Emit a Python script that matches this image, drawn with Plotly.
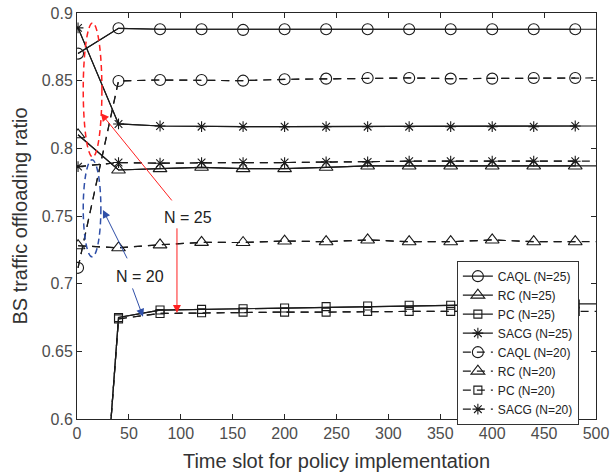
import plotly.graph_objects as go

# ---------------- data ----------------
x_slots = [1, 40, 80, 120, 160, 200, 240, 280, 320, 360, 400, 440, 480, 500]

caql_25 = [0.870, 0.8887, 0.888, 0.888, 0.8875, 0.888, 0.888, 0.888, 0.888, 0.888, 0.888, 0.888, 0.888, 0.888]
rc_25   = [0.810, 0.784, 0.785, 0.786, 0.785, 0.785, 0.786, 0.787, 0.787, 0.787, 0.787, 0.787, 0.787, 0.787]
pc_25   = [0.270, 0.675, 0.6805, 0.681, 0.6815, 0.682, 0.683, 0.6835, 0.684, 0.684, 0.6845, 0.685, 0.685, 0.685]
sacg_25 = [0.889, 0.818, 0.8165, 0.816, 0.816, 0.816, 0.816, 0.816, 0.816, 0.816, 0.816, 0.816, 0.8165, 0.8165]

caql_20 = [0.7117, 0.8498, 0.8505, 0.8505, 0.850, 0.851, 0.8515, 0.852, 0.852, 0.8515, 0.8515, 0.852, 0.852, 0.852]
rc_20   = [0.728, 0.7265, 0.7287, 0.7305, 0.7304, 0.7315, 0.731, 0.7323, 0.731, 0.731, 0.7323, 0.731, 0.731, 0.731]
pc_20   = [0.272, 0.674, 0.678, 0.6785, 0.679, 0.679, 0.679, 0.6795, 0.6795, 0.6795, 0.6795, 0.6795, 0.6795, 0.6795]
sacg_20 = [0.7865, 0.7895, 0.789, 0.7895, 0.7895, 0.7895, 0.790, 0.790, 0.7905, 0.7905, 0.7905, 0.7905, 0.7905, 0.7905]

series = [
    ("CAQL (N=25)", caql_25, "circle-open", 11, "solid"),
    ("RC (N=25)", rc_25, "triangle-up-open", 12, "solid"),
    ("PC (N=25)", pc_25, "square-open", 8, "solid"),
    ("SACG (N=25)", sacg_25, "asterisk-open", 9, "solid"),
    ("CAQL (N=20)", caql_20, "circle-open", 11, "8px,6px"),
    ("RC (N=20)", rc_20, "triangle-up-open", 12, "8px,6px"),
    ("PC (N=20)", pc_20, "square-open", 8, "8px,6px"),
    ("SACG (N=20)", sacg_20, "asterisk-open", 9, "8px,6px"),
]

x_ticks = [0, 50, 100, 150, 200, 250, 300, 350, 400, 450, 500]
y_ticks = [0.6, 0.65, 0.7, 0.75, 0.8, 0.85, 0.9]
y_tick_text = ["0.6", "0.65", "0.7", "0.75", "0.8", "0.85", "0.9"]

FONT = "Arial, Liberation Sans, sans-serif"
LINE_C = "#1a1a1a"
RED = "#ff2020"
BLUE = "#2f4fa8"

fig = go.Figure()
for name, vals, sym, size, dash in series:
    # full line to the right edge, no markers
    fig.add_trace(go.Scatter(x=x_slots, y=vals, mode="lines", showlegend=False,
                             line=dict(color=LINE_C, width=1.2, dash=dash), hoverinfo="skip"))
    # marked points
    fig.add_trace(go.Scatter(x=x_slots[:-1], y=vals[:-1], mode="lines+markers", name=name,
                             line=dict(color=LINE_C, width=1.2, dash=dash),
                             marker=dict(symbol=sym, size=size, color=LINE_C,
                                         line=dict(color=LINE_C, width=1.1))))

# ellipses
fig.add_shape(type="circle", xref="x", yref="y", x0=6, x1=24, y0=0.7936, y1=0.8926,
              line=dict(color=RED, width=1.5, dash="6px,4px"))
fig.add_shape(type="circle", xref="x", yref="y", x0=6, x1=23, y0=0.7198, y1=0.7915,
              line=dict(color=BLUE, width=1.5, dash="6px,4px"))

# labels
fig.add_annotation(x=107, y=0.7486, text="N = 25", showarrow=False, xref="x", yref="y",
                   font=dict(family=FONT, size=16, color="#222222"))
fig.add_annotation(x=60.7, y=0.705, text="N = 20", showarrow=False, xref="x", yref="y",
                   font=dict(family=FONT, size=16, color="#222222"))

# arrows
arrows = [
    (23, 0.826, 92.5, 0.7604, RED),
    (96.3, 0.6784, 96.3, 0.742, RED),
    (25, 0.7545, 49, 0.7176, BLUE),
    (63.6, 0.6755, 53, 0.6976, BLUE),
]
for xt, yt, xs, ys, col in arrows:
    fig.add_annotation(x=xt, y=yt, ax=xs, ay=ys, xref="x", yref="y", axref="x", ayref="y",
                       text="", showarrow=True, arrowhead=2, arrowsize=1.6, arrowwidth=1,
                       arrowcolor=col, standoff=0)

fig.update_layout(
    width=610, height=476,
    margin=dict(l=77, r=14, t=13, b=57, autoexpand=False),
    paper_bgcolor="white", plot_bgcolor="white",
    font=dict(family=FONT, color="#404040"),
    legend=dict(x=0.967, y=0.39, xanchor="right", yanchor="top",
                bgcolor="white", bordercolor="#333333", borderwidth=1,
                font=dict(family=FONT, size=12, color="#222222"),
                tracegroupgap=0, itemwidth=30),
    showlegend=True,
)
fig.update_xaxes(range=[0, 500], tickvals=x_ticks, ticks="inside", ticklen=5,
                 showline=True, linecolor="#262626", linewidth=1, mirror="allticks",
                 showgrid=False, zeroline=False, tickcolor="#262626", automargin=False,
                 ticklabeloverflow="allow",
                 tickfont=dict(family=FONT, size=16, color="#4d4d4d"),
                 title=dict(text="Time slot for policy implementation",
                            font=dict(family=FONT, size=20, color="#333333"), standoff=12))
fig.update_yaxes(range=[0.6, 0.9], tickvals=y_ticks, ticktext=y_tick_text, ticks="inside",
                 ticklen=5, showline=True, linecolor="#262626", linewidth=1, mirror="allticks",
                 showgrid=False, zeroline=False, tickcolor="#262626", automargin=False,
                 ticklabeloverflow="allow",
                 tickfont=dict(family=FONT, size=16, color="#4d4d4d"),
                 title=dict(text="BS traffic offloading ratio",
                            font=dict(family=FONT, size=20, color="#333333"), standoff=8))

fig.write_html("out.html", config={"displayModeBar": False},
               post_script="document.body.style.margin='0';document.body.style.overflow='hidden';")
